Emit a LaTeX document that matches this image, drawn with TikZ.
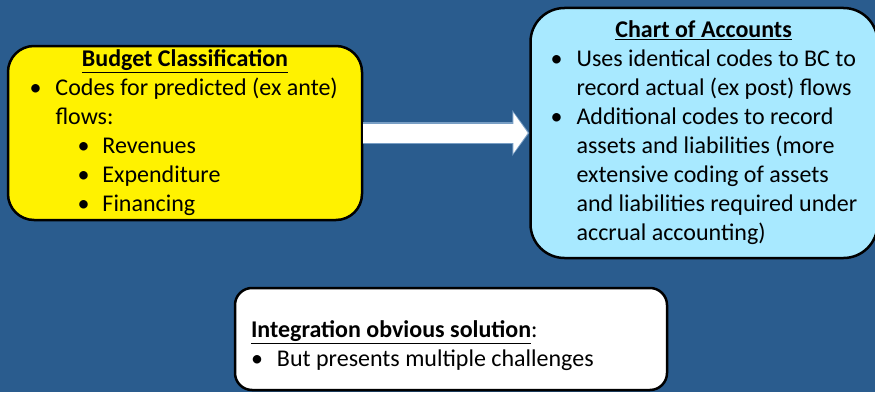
\documentclass[tikz,border=0pt]{standalone}
\usepackage{fontspec}
\setmainfont{Carlito}
\usetikzlibrary{positioning,arrows.meta}
\definecolor{slide}{RGB}{42,92,142}
\definecolor{skyfill}{RGB}{168,233,255}
\definecolor{arrowedge}{RGB}{120,158,196}
\tikzset{box/.style={draw=black, line width=2.5pt, align=left, inner sep=0pt,
    font=\fontsize{24}{29}\selectfont}}
\newcommand{\bul}{\makebox[26pt][l]{\textbullet}}
\newcommand{\subbul}{\hspace*{48pt}\makebox[25pt][l]{\textbullet}}
\newcommand{\more}{\hspace*{26pt}}

\begin{document}
\begin{tikzpicture}[x=1pt,y=1pt]
  \fill[slide] (0,0) rectangle (875,392);
  \useasboundingbox (0,0) rectangle (875,392);

  \node (BC) [box, fill=yellow, rounded corners=26pt, minimum width=354pt,
    minimum height=174pt] at (185,259)
    {\makebox[311pt]{\bfseries\underline{Budget Classification}}\\
     \bul Codes for predicted (ex ante)\\
     \more flows:\\
     \subbul Revenues\\
     \subbul Expenditure\\
     \subbul Financing};
  \node (CoA) [box, fill=skyfill, rounded corners=34pt, minimum width=347pt,
    minimum height=250pt, right=166pt of BC]
    {\makebox[306pt]{\bfseries\underline{Chart of Accounts}}\\
     \bul Uses identical codes to BC to\\
     \more record actual (ex post) flows\\
     \bul Additional codes to record\\
     \more assets and liabilities (more\\
     \more extensive coding of assets\\
     \more and liabilities required under\\
     \more accrual accounting)};
  \node (Int) [box, fill=white, rounded corners=17pt, minimum width=432pt,
    minimum height=102pt] at (451,53)
    {\makebox[400pt][l]{\rule{0pt}{30pt}\textbf{\underline{Integration obvious solution}}:}\\
     \bul But presents multiple challenges};

  \draw [arrowedge, line width=22pt, -{Triangle[length=17pt,width=45pt]}] (BC) to (CoA);
  \draw [white, line width=19pt, shorten >=1.5pt, -{Triangle[length=14.5pt,width=40pt]}] (BC) to (CoA);
\end{tikzpicture}
\end{document}
